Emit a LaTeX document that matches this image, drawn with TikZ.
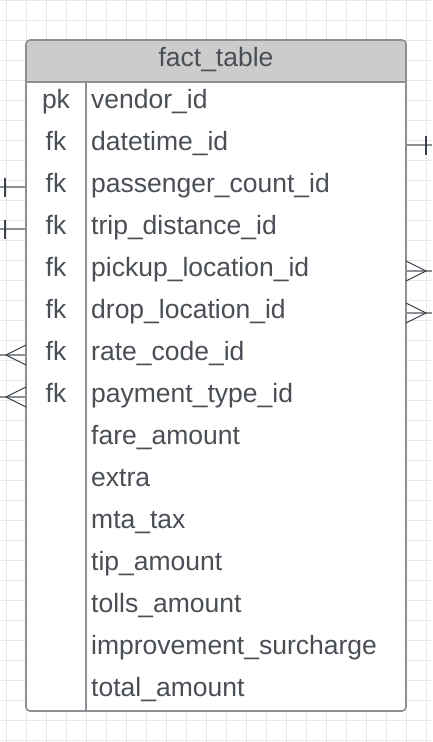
\documentclass[tikz,border=0pt]{standalone}
\usepackage{fontspec}
\setmainfont{Liberation Sans}
\usepackage{xcolor}
\usetikzlibrary{positioning}

\definecolor{gridgray}{HTML}{E8E8E8}
\definecolor{bordergray}{HTML}{8C8F94}
\definecolor{headgray}{HTML}{CCCCCC}
\definecolor{textgray}{HTML}{4A4F56}
\definecolor{markgray}{HTML}{39414C}

\tikzset{
  gridline/.style={draw=gridgray, line width=1pt},
  tblline/.style={draw=bordergray, line width=1.6pt},
  link/.style={draw=bordergray, line width=2pt},
  endmark/.style={draw=markgray, line width=1.1pt},
}

\begin{document}
\begin{tikzpicture}[x=1pt,y=-1pt]
        \useasboundingbox (0,0) rectangle (432,742);
        % grid
        \foreach \gx in {6.7,26.7,...,430} \draw[gridline] (\gx,0) -- (\gx,742);
        \foreach \gy in {0,20,...,740} \draw[gridline] (0,\gy) -- (432,\gy);

        % table body
        \fill[white, rounded corners=4pt] (26,40) rectangle (406,711);
        \fill[headgray] (26,82) [rounded corners=4pt] -- (26,40) -- (406,40) [sharp corners] -- (406,82) -- cycle;
        \draw[tblline] (26,82) -- (406,82);
        \draw[tblline] (86,82) -- (86,711);
        \draw[tblline, rounded corners=4pt] (26,40) rectangle (406,711);

        \begin{scope}[every node/.style={font=\fontsize{26.5}{30}\selectfont, text=textgray, inner sep=0pt, anchor=base west}]
          \node[anchor=base] (title) at (216,66) {fact\_table};
          \node[anchor=base] (k1) at (56,108) {pk};
          \node[anchor=base] (k2) at (56,150) {fk};
          \node[anchor=base] (k3) at (56,192) {fk};
          \node[anchor=base] (k4) at (56,234) {fk};
          \node[anchor=base] (k5) at (56,276) {fk};
          \node[anchor=base] (k6) at (56,318) {fk};
          \node[anchor=base] (k7) at (56,360) {fk};
          \node[anchor=base] (k8) at (56,402) {fk};
          \node (vendor) at (91,108) {vendor\_id};
          \node (datetime) at (91,150) {datetime\_id};
          \node (passenger) at (91,192) {passenger\_count\_id};
          \node (tripdist) at (91,234) {trip\_distance\_id};
          \node (pickup) at (91,276) {pickup\_location\_id};
          \node (drop) at (91,318) {drop\_location\_id};
          \node (rate) at (91,360) {rate\_code\_id};
          \node (payment) at (91,402) {payment\_type\_id};
          \node (fare) at (91,444) {fare\_amount};
          \node (extra) at (91,486) {extra};
          \node (mta) at (91,528) {mta\_tax};
          \node (tip) at (91,570) {tip\_amount};
          \node (tolls) at (91,612) {tolls\_amount};
          \node (improve) at (91,654) {improvement\_surcharge};
          \node (total) at (91,696) {total\_amount};
        \end{scope}

        % connector ends
        \coordinate (datetime-e) at (406,145);   \coordinate (datetime-out) at (432,145);
        \coordinate (passenger-w) at (26,187);   \coordinate (passenger-out) at (0,187);
        \coordinate (tripdist-w) at (26,229);    \coordinate (tripdist-out) at (0,229);
        \coordinate (pickup-e) at (406,271);     \coordinate (pickup-out) at (432,271);
        \coordinate (drop-e) at (406,313);       \coordinate (drop-out) at (432,313);
        \coordinate (rate-w) at (26,355);        \coordinate (rate-out) at (0,355);
        \coordinate (payment-w) at (26,397);     \coordinate (payment-out) at (0,397);

        \begin{scope}[every edge/.style={link}]
          \path (datetime-e) edge (datetime-out);
          \path (passenger-w) edge (passenger-out);
          \path (tripdist-w) edge (tripdist-out);
          \path (pickup-e) edge (pickup-out);
          \path (drop-e) edge (drop-out);
          \path (rate-w) edge (rate-out);
          \path (payment-w) edge (payment-out);
        \end{scope}

        % one / many marks
        \draw[endmark] ([xshift=20pt]datetime-e) ++(0,-9.5) -- ++(0,19);
        \draw[endmark] ([xshift=-21pt]passenger-w) ++(0,-9.5) -- ++(0,19);
        \draw[endmark] ([xshift=-21pt]tripdist-w) ++(0,-9.5) -- ++(0,19);
        \draw[endmark] (pickup-e) ++(0,-10) -- ++(20,10) -- ++(-20,10);
        \draw[endmark] (drop-e) ++(0,-10) -- ++(20,10) -- ++(-20,10);
        \draw[endmark] (rate-w) ++(0,-10) -- ++(-20,10) -- ++(20,10);
        \draw[endmark] (payment-w) ++(0,-10) -- ++(-20,10) -- ++(20,10);
      \end{tikzpicture}
\end{document}
